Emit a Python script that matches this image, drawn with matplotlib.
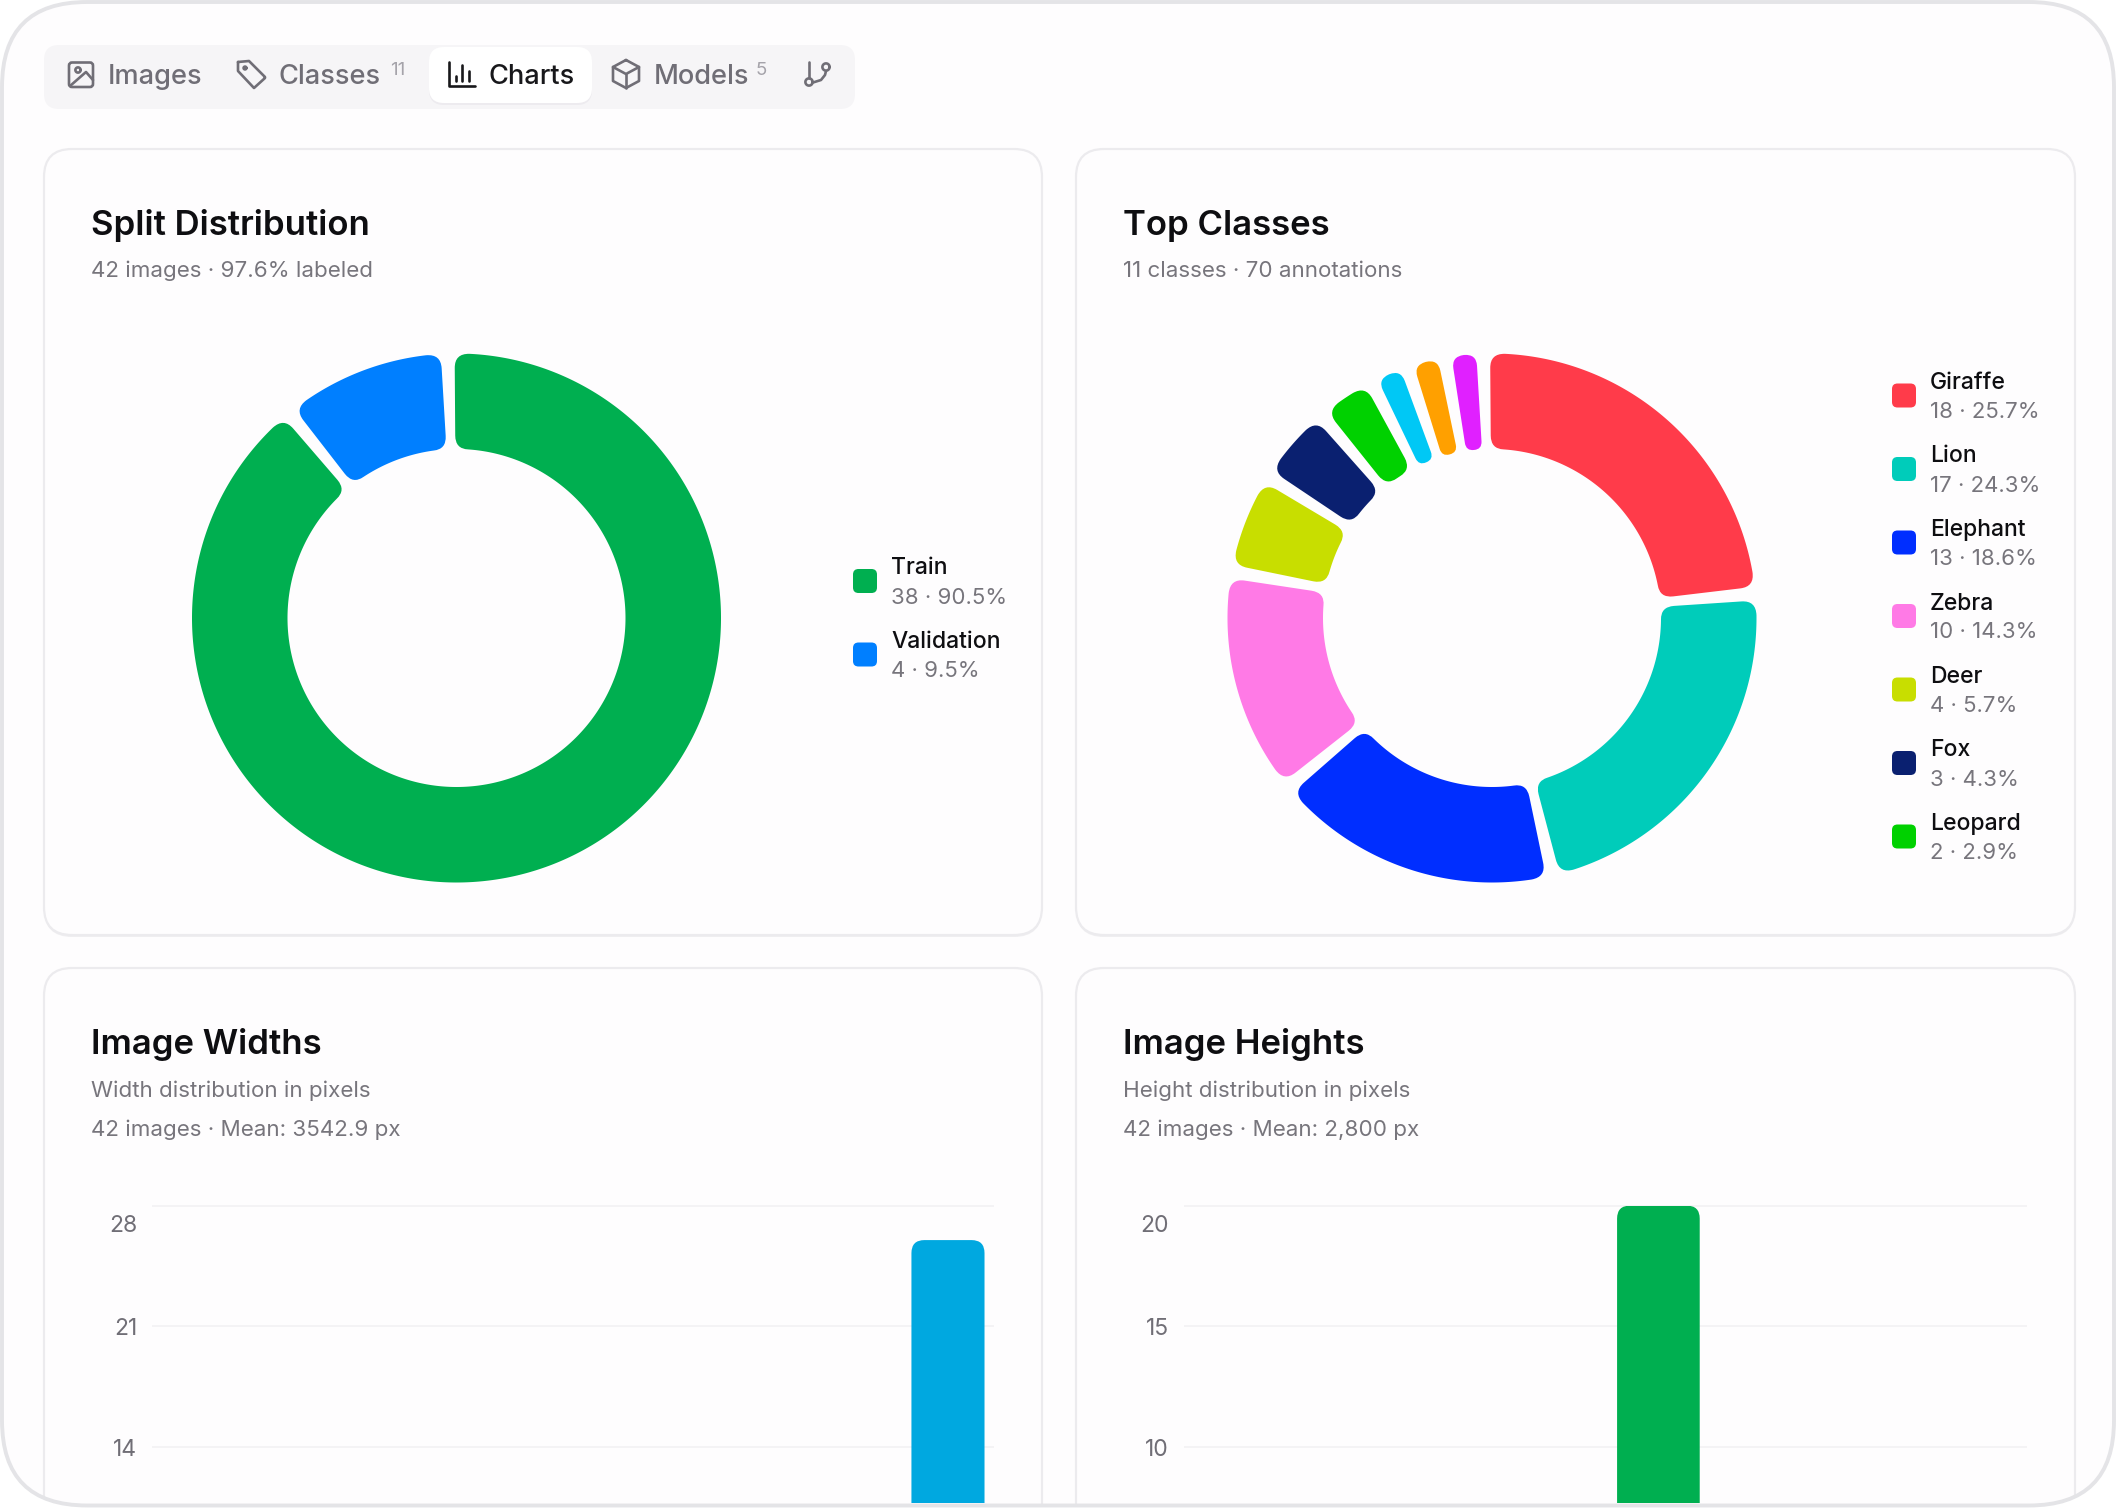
import math
import numpy as np
import matplotlib
matplotlib.use("Agg")
import matplotlib.pyplot as plt
from matplotlib.patches import FancyBboxPatch, PathPatch
from matplotlib.path import Path
from matplotlib.transforms import ScaledTranslation

plt.rcParams['font.family'] = ['Inter', 'DejaVu Sans']

# ---- data ----
split_labels = ["Train", "Validation"]
split_values = [38, 4]
split_notes = ["38 · 90.5%", "4 · 9.5%"]
split_colors = ["#00AF50", "#007FFF"]

class_labels = ["Giraffe", "Lion", "Elephant", "Zebra", "Deer", "Fox", "Leopard"]
class_notes = ["18 · 25.7%", "17 · 24.3%", "13 · 18.6%", "10 · 14.3%", "4 · 5.7%", "3 · 4.3%", "2 · 2.9%"]
class_values = [18, 17, 13, 10, 4, 3, 2, 1, 1, 1]
class_colors = ["#FF3B4A", "#00CCBA", "#002EFF", "#FF7AE6", "#C8DE00", "#0A2070", "#00D100",
                "#00C8F5", "#FFA000", "#E020FF"]

width_ticks = [14, 21, 28]
width_bar_bin = [9]
width_bar_count = [26]
height_ticks = [10, 15, 20]
height_bar_bin = [5]
height_bar_count = [20]

W, H = 2116, 1508
INK = "#0E0E11"
MUTED = "#77757C"
BORDER = "#ECEBEE"
BG = "#FEFDFE"

fig = plt.figure(figsize=(W / 100, H / 100), dpi=100, facecolor="white")


def box(px, py, pw, ph):
    return [px / W, 1 - (py + ph) / H, pw / W, ph / H]


ui = fig.add_axes([0, 0, 1, 1], zorder=0)
ui.set_xlim(0, W)
ui.set_ylim(H, 0)
ui.axis("off")


def rbox(ax, x0, y0, x1, y1, r, fc="none", ec="none", lw=0, z=1, clip=None):
    p = FancyBboxPatch((x0, y0), x1 - x0, y1 - y0, boxstyle=f"round,pad=0,rounding_size={r}",
                       fc=fc, ec=ec, lw=lw, zorder=z)
    ax.add_patch(p)
    if clip is not None:
        p.set_clip_path(clip)
    return p


# page
page = rbox(ui, 2, 2, W - 2, 1505, 85, fc=BG, z=0.5)

# tab bar
rbox(ui, 44, 45, 855, 109, 15, fc="#F6F5F7", z=1)
rbox(ui, 429, 49, 592, 105, 15, fc="#EDEBEF", z=1.1)
rbox(ui, 429, 47, 592, 103, 15, fc="#FFFFFF", z=1.2)

TAB_GREY = "#706E76"
TAB_SIZE = 19.6
ui.text(108, 84, "Images", fontsize=TAB_SIZE, color=TAB_GREY, weight="medium", zorder=3)
ui.text(278, 84, "Classes", fontsize=TAB_SIZE, color=TAB_GREY, weight="medium", zorder=3)
ui.text(489, 84, "Charts", fontsize=TAB_SIZE, color="#18181B", weight="medium", zorder=3)
ui.text(654, 84, "Models", fontsize=TAB_SIZE, color=TAB_GREY, weight="medium", zorder=3)
ui.text(390, 75, "11", fontsize=13.5, color="#A5A3AA", zorder=3)
ui.text(756, 75, "5", fontsize=13.5, color="#A5A3AA", zorder=3)

ICON_LW = 1.9


def stroke(xs, ys, color=TAB_GREY, lw=ICON_LW):
    ui.plot(xs, ys, color=color, lw=lw, solid_capstyle="round", solid_joinstyle="round", zorder=3)


def circle(cx, cy, r, color=TAB_GREY):
    t = np.linspace(0, 2 * np.pi, 40)
    stroke(cx + r * np.cos(t), cy + r * np.sin(t), color)


# image icon
rbox(ui, 69, 62.5, 93, 87, 3, ec=TAB_GREY, lw=ICON_LW, z=3)
circle(78, 70, 2.6)
stroke([70, 86, 93], [86, 72, 80])
# tag icon
stroke([238, 238, 254, 265, 265, 249, 238], [62, 71, 88, 78, 77, 61, 62])
circle(245, 68, 1.4)
# bar icon
stroke([449, 449, 475], [62, 86, 86], "#18181B")
stroke([456, 456], [76, 81], "#18181B")
stroke([462, 462], [65, 81], "#18181B")
stroke([469, 469], [71, 81], "#18181B")
# cube icon
stroke([626, 639, 639, 626, 613, 613, 626], [60, 67, 81, 88, 81, 67, 60])
stroke([613, 626, 639], [67, 74, 67])
stroke([626, 626], [74, 88])
# branch icon
circle(809, 82, 3.6)
circle(826, 67, 3.6)
stroke([809, 809], [78, 62])
stroke([826, 825, 821, 813], [71, 75, 80, 82.5])

# cards
cards = [(44, 149, 1042, 935), (1076, 149, 2075, 935), (44, 968, 1042, 1600), (1076, 968, 2075, 1600)]
for x0, y0, x1, y1 in cards:
    rbox(ui, x0, y0 + 2, x1, y1 + 2, 28, fc="#F0EFF1", z=1.4, clip=page)
    rbox(ui, x0, y0, x1, y1, 28, fc=BG, ec=BORDER, lw=1.6, z=1.5, clip=page)


def head(x, base, title, subs):
    ui.text(x, base, title, fontsize=25, color=INK, weight="semibold", zorder=3)
    for by, s in subs:
        ui.text(x, by, s, fontsize=16.1, color=MUTED, zorder=3)


head(91, 235, "Split Distribution", [(277, "42 images · 97.6% labeled")])
head(1123, 235, "Top Classes", [(277, "11 classes · 70 annotations")])
head(91, 1054, "Image Widths", [(1097, "Width distribution in pixels"), (1136, "42 images · Mean: 3542.9 px")])
head(1123, 1054, "Image Heights", [(1097, "Height distribution in pixels"), (1136, "42 images · Mean: 2,800 px")])


# ---- donuts ----
R_PX, r_PX = 264.5, 169.0
PAD_DEG = 3.0
MIN_DEG = 0.8
CORNER_PX = 14.0
START_DEG = -0.4


def pt(radius, deg):
    a = math.radians(deg)
    return (radius * math.sin(a), radius * math.cos(a))


def arc(radius, d0, d1):
    n = max(8, int(abs(d1 - d0) * 2))
    return [pt(radius, d) for d in np.linspace(d0, d1, n)][1:]


def sector_path(R, r, d0, d1, c):
    half = math.sin(math.radians((d1 - d0) / 2))
    co = min(c, R * half / (1 + half) * 0.98)
    ci = min(c, r * half / (1 - half) * 0.98)
    do = math.degrees(math.asin(co / (R - co)))
    di = math.degrees(math.asin(ci / (r + ci)))
    eo = math.sqrt((R - co) ** 2 - co ** 2)
    ei = math.sqrt((r + ci) ** 2 - ci ** 2)
    v, codes = [], []

    def line(p):
        v.append(p)
        codes.append(Path.LINETO if v[:-1] else Path.MOVETO)

    def quad(ctrl, p):
        v.extend([ctrl, p])
        codes.extend([Path.CURVE3, Path.CURVE3])

    line(pt(ei, d0))
    line(pt(eo, d0))
    quad(pt(R, d0), pt(R, d0 + do))
    for p in arc(R, d0 + do, d1 - do):
        line(p)
    quad(pt(R, d1), pt(eo, d1))
    line(pt(ei, d1))
    quad(pt(r, d1), pt(r, d1 - di))
    for p in arc(r, d1 - di, d0 + di):
        line(p)
    quad(pt(r, d0), pt(ei, d0))
    v.append(v[0])
    codes.append(Path.CLOSEPOLY)
    return Path(v, codes)


def donut(cx, cy, values, colors):
    ax = fig.add_axes(box(cx - R_PX, cy - R_PX, 2 * R_PX, 2 * R_PX), zorder=2)
    ax.set_xlim(-R_PX, R_PX)
    ax.set_ylim(-R_PX, R_PX)
    ax.axis("off")
    total = sum(values)
    real = 360 - (PAD_DEG + MIN_DEG) * len(values)
    d = START_DEG
    for val, col in zip(values, colors):
        span = val / total * real + MIN_DEG
        ax.add_patch(PathPatch(sector_path(R_PX, r_PX, d, d + span, CORNER_PX), fc=col, ec="none",
                               clip_on=False))
        d += span + PAD_DEG
    return ax


donut(456.5, 618, split_values, split_colors)
donut(1492, 618, class_values, class_colors)


def legend(x_sw, x_txt, y0, step, labels, notes, colors):
    for i, (lab, note, col) in enumerate(zip(labels, notes, colors)):
        yc = y0 + i * step
        rbox(ui, x_sw, yc - 12, x_sw + 24, yc + 12, 5.5, fc=col, z=3)
        ui.text(x_txt, yc - 6.5, lab, fontsize=16.5, color=INK, weight="medium", zorder=3)
        ui.text(x_txt, yc + 22.5, note, fontsize=16, color=MUTED, zorder=3)


legend(853, 891, 581, 73.5, split_labels, split_notes, split_colors)
legend(1892, 1930, 395.5, 73.5, class_labels, class_notes, class_colors)


# ---- histograms (cropped by the frame) ----
def hist(px0, px1, xlim, ticks, bins, counts, color, bar_w):
    top_px, low_px, bot_px = 1205.6, 1447.0, 1503.0
    ax = fig.add_axes(box(px0, top_px, px1 - px0, bot_px - top_px), zorder=2)
    ax.patch.set_alpha(0)
    unit = (low_px - top_px) / (ticks[-1] - ticks[0])
    ymin = ticks[0] - (bot_px - low_px) / unit
    ax.set_ylim(ymin, ticks[-1])
    ax.set_xlim(*xlim)
    for s in ax.spines.values():
        s.set_visible(False)
    ax.set_xticks([])
    ax.set_yticks(ticks)
    ax.set_yticklabels([str(t) for t in ticks])
    ax.tick_params(axis="y", length=0, pad=11.5, labelsize=16.5, labelcolor="#706E76")
    ax.grid(axis="y", color="#F4F3F5", lw=1.4, clip_on=False)
    ax.set_axisbelow(True)
    rects = ax.bar(bins, counts, width=bar_w, color=color, linewidth=0)
    # rounded top corners: clip the bar with its own rounded outline
    rx = 13 / ((px1 - px0) / (xlim[1] - xlim[0]))
    ry = 13 / unit
    for rect in rects:
        x0, x1, t = rect.get_x(), rect.get_x() + rect.get_width(), rect.get_height()
        p = Path([(x0, ymin), (x0, t - ry), (x0, t), (x0 + rx, t), (x1 - rx, t), (x1, t), (x1, t - ry),
                  (x1, ymin), (x0, ymin)],
                 [Path.MOVETO, Path.LINETO, Path.CURVE3, Path.CURVE3, Path.LINETO, Path.CURVE3, Path.CURVE3,
                  Path.LINETO, Path.CLOSEPOLY])
        rect.set_clip_path(p, ax.transData)
    # the top label sits below its gridline
    fig.canvas.draw()
    lab = ax.get_yticklabels()[-1]
    lab.set_transform(lab.get_transform() + ScaledTranslation(0, -17.4 / 100, fig.dpi_scale_trans))
    return ax


hist(153, 993, (-0.464, 9.536), width_ticks, width_bar_bin, width_bar_count, "#00A8E0", 0.87)
hist(1184.6, 2026, (0.012, 8.87), height_ticks, height_bar_bin, height_bar_count, "#00AF50", 0.87)

# frame on top of everything
top = fig.add_axes([0, 0, 1, 1], zorder=10)
top.set_xlim(0, W)
top.set_ylim(H, 0)
top.axis("off")
top.patch.set_alpha(0)
rbox(top, 2, 2, W - 2, 1505.5, 85, ec="#E4E4E7", lw=2.8, z=5)

fig.savefig("out.png", dpi=100, facecolor="white")
